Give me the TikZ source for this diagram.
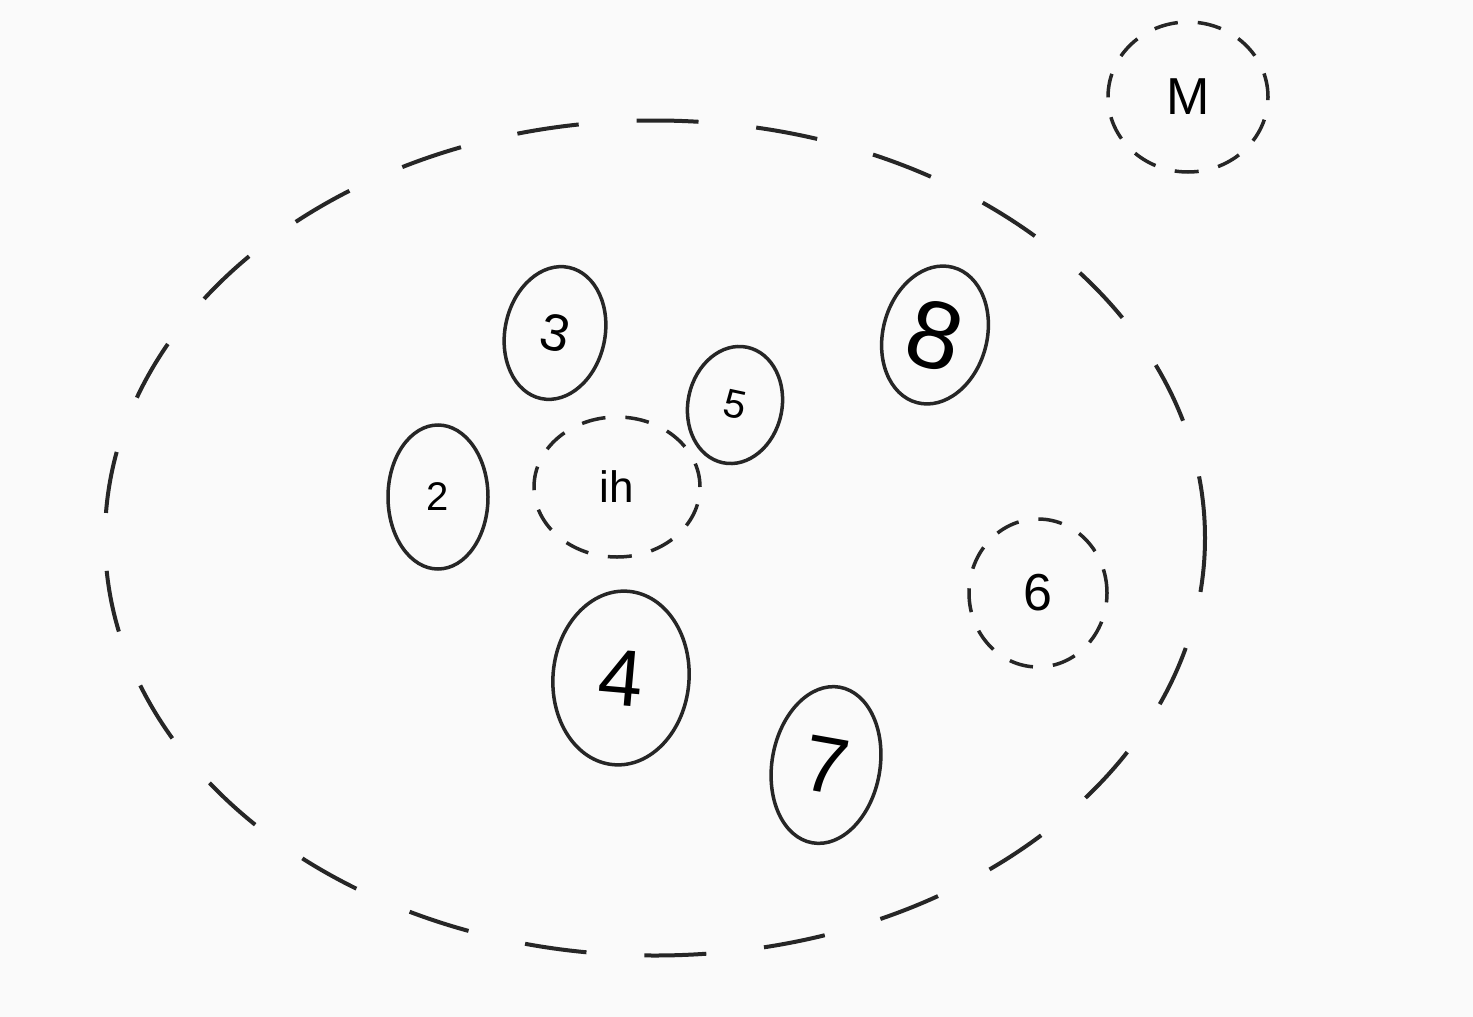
\documentclass[tikz,border=0pt]{standalone}
\usepackage{fontspec}
\setmainfont{Liberation Sans}
\usetikzlibrary{shapes.geometric}
\begin{document}
\begin{tikzpicture}[x=1pt,y=-1pt,
  solidring/.style={ellipse,draw=black!85,line width=3.5pt,inner sep=0pt,font=\fontsize{52}{60}\selectfont},
  dashring/.style={ellipse,draw=black!85,line width=3.5pt,inner sep=0pt,dash pattern=on 24pt off 20pt,font=\fontsize{52}{60}\selectfont},
  bigring/.style={ellipse,draw=black!85,line width=4pt,inner sep=0pt,dash pattern=on 62pt off 58pt}]
\fill[white!98!black] (0,0) rectangle (1473,1017);
\useasboundingbox (0,0) rectangle (1473,1017);
\node[bigring,minimum width=1100pt,minimum height=835pt] (outer) at (655,538) {};
\node[dashring,minimum width=160pt,minimum height=150pt] (m) at (1188,97) {M};
\node[solidring,minimum width=100pt,minimum height=134pt,rotate=-12] (n3) at (555,333) {3};
\node[solidring,minimum width=104pt,minimum height=140pt,rotate=-15] (n8) at (935,335) {\fontsize{96}{110}\selectfont 8};
\node[solidring,minimum width=94pt,minimum height=118pt,rotate=-12] (n5) at (735,405) {\fontsize{40}{48}\selectfont 5};
\node[solidring,minimum width=100pt,minimum height=144pt] (n2) at (438,497) {\fontsize{40}{48}\selectfont 2};
\node[dashring,minimum width=166pt,minimum height=140pt] (ih) at (617,487) {\fontsize{44}{52}\selectfont ih};
\node[dashring,minimum width=138pt,minimum height=148pt] (n6) at (1038,593) {6};
\node[solidring,minimum width=136pt,minimum height=174pt,rotate=-5] (n4) at (621,678) {\fontsize{80}{92}\selectfont 4};
\node[solidring,minimum width=108pt,minimum height=158pt,rotate=-10] (n7) at (826,765) {\fontsize{80}{92}\selectfont 7};
\end{tikzpicture}
\end{document}
